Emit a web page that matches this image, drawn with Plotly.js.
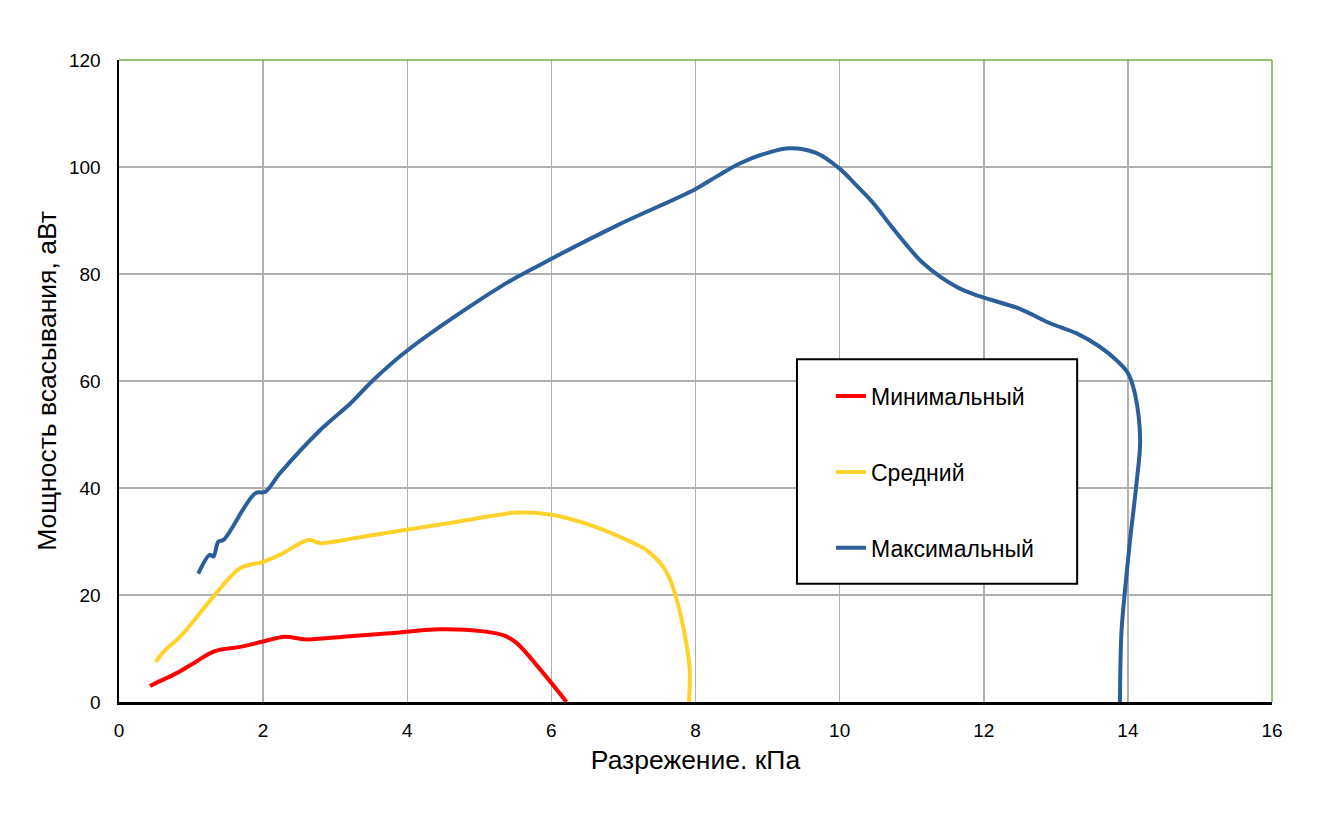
<!DOCTYPE html>
<html>
<head>
<meta charset="utf-8">
<script src="https://cdn.plot.ly/plotly-3.0.1.min.js"></script>
<style>
  html, body { margin: 0; padding: 0; background: #fff; }
  #plot { width: 1328px; height: 815px; }
</style>
</head>
<body>
<div id="plot"></div>
<script>
// series values (x = кПа, y = аВт)
var minX = [0.43, 0.55, 0.80, 1.03, 1.33, 1.68, 2.00, 2.30, 2.60, 3.20, 3.90, 4.45, 5.06, 5.35, 5.52, 5.85, 6.21];
var minY = [3.0, 3.8, 5.4, 7.2, 9.5, 10.3, 11.3, 12.2, 11.7, 12.3, 13.0, 13.6, 13.2, 12.4, 11.0, 6.0, 0];

var midX = [0.51, 0.64, 0.85, 1.08, 1.31, 1.68, 2.00, 2.23, 2.63, 2.79, 3.30, 3.90, 4.70, 5.52, 6.00, 6.60, 7.14, 7.32, 7.55, 7.65, 7.78, 7.88, 7.92, 7.91];
var midY = [7.5, 9.7, 12.2, 15.9, 19.7, 25.0, 26.2, 27.5, 30.3, 29.7, 30.7, 32.0, 33.7, 35.4, 35.0, 32.8, 29.7, 28.4, 25.3, 22.8, 17.0, 10.3, 6.0, 0];

var maxX = [1.10, 1.26, 1.31, 1.38, 1.45, 1.89, 2.03, 2.23, 2.79, 3.21, 3.53, 4.01, 5.29, 5.84, 6.90, 7.99, 8.29, 8.62, 8.99, 9.31, 9.68, 10.00, 10.23, 10.47, 10.70, 10.93, 11.16, 11.62, 11.95, 12.50, 12.92, 13.29, 13.61, 13.84, 14.00, 14.10, 14.17, 14.12, 14.03, 13.96, 13.91, 13.89];
var maxY = [24.0, 27.5, 27.2, 30.0, 30.3, 39.0, 39.3, 42.7, 50.8, 55.8, 60.2, 65.8, 77.6, 81.7, 89.0, 95.8, 98.2, 100.7, 102.6, 103.5, 102.6, 99.7, 96.6, 93.2, 89.2, 85.4, 82.0, 77.6, 75.8, 73.5, 70.8, 68.9, 66.4, 63.9, 61.5, 57.5, 49.0, 40.9, 30.3, 20.9, 12.8, 0];

var seriesNames = ['Минимальный', 'Средний', 'Максимальный'];
var seriesColors = ['#FF0000', '#FFD22B', '#2C5F99'];

var xTicks = [0, 2, 4, 6, 8, 10, 12, 14, 16];
var yTicks = [0, 20, 40, 60, 80, 100, 120];

var xs = [minX, midX, maxX];
var ys = [minY, midY, maxY];

var traces = [];
for (var i = 0; i < 3; i++) {
  traces.push({
    x: xs[i],
    y: ys[i],
    name: seriesNames[i],
    legendgroup: 'g' + i,
    type: 'scatter',
    mode: 'lines',
    line: { color: seriesColors[i], width: 4, shape: 'spline', smoothing: 1 },
    hoverinfo: 'x+y+name'
  });
}

var font = 'Arial, "Liberation Sans", sans-serif';

var layout = {
  width: 1328,
  height: 815,
  margin: { l: 119, r: 56, t: 60, b: 113 },
  paper_bgcolor: '#ffffff',
  plot_bgcolor: '#ffffff',
  font: { family: font, color: '#000000' },
  showlegend: true,
  legend: {
    x: 0.6175, xanchor: 'left',
    y: 0.51, yanchor: 'top',
    bgcolor: 'rgba(0,0,0,0)',
    borderwidth: 0,
    font: { family: font, size: 23, color: '#000000' },
    traceorder: 'grouped',
    tracegroupgap: 43
  },
  xaxis: {
    range: [0, 16],
    tickvals: xTicks,
    ticktext: xTicks.map(String),
    tickfont: { family: font, size: 19 },
    ticks: 'outside', ticklen: 10, tickcolor: 'rgba(0,0,0,0)',
    showgrid: true, gridcolor: '#B0B0B0', gridwidth: 1.5,
    zeroline: false,
    showline: true, linecolor: '#000000', linewidth: 2.5,
    title: { text: 'Разрежение. кПа', font: { family: font, size: 26.5 }, standoff: 10 },
    automargin: false
  },
  yaxis: {
    range: [0, 120],
    tickvals: yTicks,
    ticktext: yTicks.map(String),
    tickfont: { family: font, size: 19 },
    ticks: 'outside', ticklen: 12, tickcolor: 'rgba(0,0,0,0)',
    showgrid: true, gridcolor: '#B0B0B0', gridwidth: 1.5,
    zeroline: false,
    showline: true, linecolor: '#000000', linewidth: 2.5,
    title: { text: 'Мощность всасывания, аВт', font: { family: font, size: 26.5 }, standoff: 5 },
    automargin: false
  },
  shapes: [
    // thin green frame on top and right
    { type: 'line', xref: 'paper', yref: 'paper', x0: 0, x1: 1, y0: 1, y1: 1,
      line: { color: '#70AD47', width: 1.5 } },
    { type: 'line', xref: 'paper', yref: 'paper', x0: 1, x1: 1, y0: 0, y1: 1,
      line: { color: '#70AD47', width: 1.5 } },
    // legend box
    { type: 'rect', xref: 'paper', yref: 'paper', x0: 0.588, x1: 0.831, y0: 0.184, y1: 0.534,
      line: { color: '#000000', width: 2 }, fillcolor: '#ffffff', layer: 'above' }
  ]
};

Plotly.newPlot('plot', traces, layout, { displayModeBar: false, staticPlot: true });
</script>
</body>
</html>
